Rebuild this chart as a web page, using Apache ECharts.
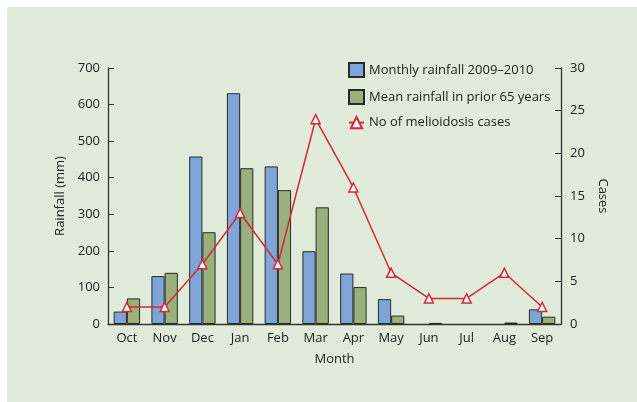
<!DOCTYPE html>
<html><head><meta charset="utf-8">
<script src="https://cdn.jsdelivr.net/npm/echarts@6/dist/echarts.min.js"></script>
<style>html,body{margin:0;padding:0;background:#fff;}#c{width:637px;height:402px;}</style>
</head><body><div id="c"></div>
<script>
const months = ['Oct','Nov','Dec','Jan','Feb','Mar','Apr','May','Jun','Jul','Aug','Sep'];
const rainfall2009 = [34,131,458,631,431,199,138,68,null,null,null,40];
const meanRainfall = [70,140,251,426,366,319,101,23,3,null,4,20];
const cases = [2,2,7,13,7,24,16,6,3,3,6,2];
const rainTicks = [0,700,100];
const caseTicks = [0,30,5];

const chart = echarts.init(document.getElementById('c'));
const font = '"Open Sans", Lato, sans-serif';
chart.setOption({
  animation:false,
  backgroundColor:'#ffffff',
  graphic:[{type:'rect',z:-10,silent:true,shape:{x:7,y:7,width:630,height:395},style:{fill:'#e0ebd9'}}],
  grid:{left:108,right:76,top:68,bottom:78},
  legend:{
    orient:'vertical',left:343,top:57,itemGap:11,itemWidth:15,itemHeight:14,
    textStyle:{fontFamily:font,fontSize:13,color:'#222'},
    data:[{name:'Monthly rainfall 2009–2010',icon:'rect'},{name:'Mean rainfall in prior 65 years',icon:'rect'},'No of melioidosis cases']
  },
  xAxis:{
    type:'category',data:months,
    axisLine:{lineStyle:{color:'#333',width:1.3}},
    axisTick:{show:false},
    axisLabel:{fontFamily:font,fontSize:13,color:'#222',margin:8},
    name:'Month',nameLocation:'middle',nameGap:29,
    nameTextStyle:{fontFamily:font,fontSize:13,color:'#222'}
  },
  yAxis:[{
    type:'value',min:rainTicks[0],max:rainTicks[1],interval:rainTicks[2],
    axisLine:{show:true,lineStyle:{color:'#333',width:1.3}},
    axisTick:{show:true,inside:true,length:6,lineStyle:{color:'#333'}},
    splitLine:{show:false},
    axisLabel:{fontFamily:font,fontSize:13,color:'#222',margin:8},
    name:'Rainfall (mm)',nameLocation:'middle',nameGap:40,
    nameTextStyle:{fontFamily:font,fontSize:13,color:'#222'}
  },{
    type:'value',min:caseTicks[0],max:caseTicks[1],interval:caseTicks[2],position:'right',
    axisLine:{show:true,lineStyle:{color:'#333',width:1.3}},
    axisTick:{show:true,inside:true,length:6,lineStyle:{color:'#333'}},
    splitLine:{show:false},
    axisLabel:{fontFamily:font,fontSize:13,color:'#222',margin:9},
    name:'Cases',nameLocation:'middle',nameGap:32,nameRotate:-90,
    nameTextStyle:{fontFamily:font,fontSize:13,color:'#222'}
  }],
  series:[{
    name:'Monthly rainfall 2009–2010',type:'bar',data:rainfall2009,
    barGap:'0%',barCategoryGap:'30%',
    itemStyle:{color:'#7fa5d8',borderColor:'#2a2a2a',borderWidth:1}
  },{
    name:'Mean rainfall in prior 65 years',type:'bar',data:meanRainfall,
    itemStyle:{color:'#9ab07c',borderColor:'#2a2a2a',borderWidth:1}
  },{
    name:'No of melioidosis cases',type:'line',yAxisIndex:1,data:cases,
    symbol:'triangle',symbolSize:9,
    lineStyle:{color:'#d42a35',width:1.5},
    itemStyle:{color:'#ffffff',borderColor:'#d42a35',borderWidth:1.5},
    z:5
  }]
});
</script></body></html>
